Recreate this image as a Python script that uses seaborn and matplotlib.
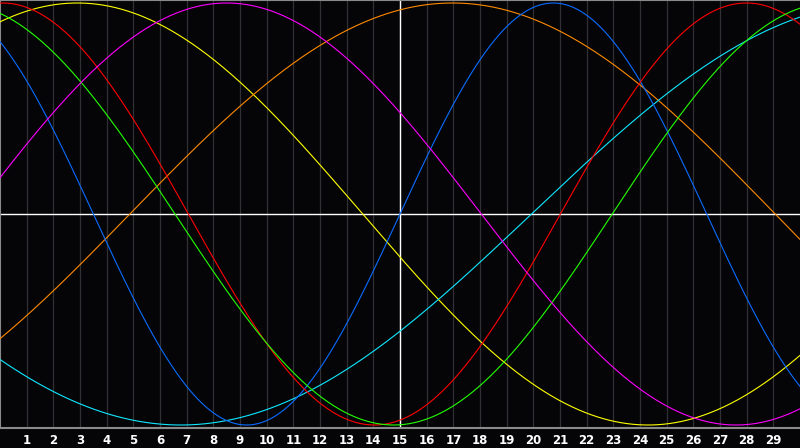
import numpy as np
import pandas as pd
import matplotlib
matplotlib.use("Agg")
import matplotlib.pyplot as plt
import matplotlib.transforms as mtransforms
import seaborn as sns

# --- data (cosine curves: period and position of the crest) ---
series = ["yellow", "orange", "cyan", "blue", "red", "green", "magenta"]
colors = ["#ffff00", "#ff8a00", "#10e8ff", "#0a6cff", "#ff0000", "#22ff00", "#ff00ff"]
periods = [42.8, 48.4, 52.6, 23.0, 27.9, 32.8, 38.2]
crests = [2.9, 16.97, 33.08, 20.75, 0.09, -1.64, 8.5]
tick_positions = list(range(1, 30))
tick_labels = [str(i) for i in tick_positions]

x = np.linspace(0, 30, 1201)
frames = []
for name, per, c in zip(series, periods, crests):
    frames.append(pd.DataFrame({"x": x, "y": np.cos((x - c) / per * 2 * np.pi), "series": name}))
df = pd.concat(frames, ignore_index=True)

sns.set_style("dark")
fig = plt.figure(figsize=(8, 4.48), dpi=100, facecolor="#050508")
ax = fig.add_axes([0.0, 20 / 448, 1.0, 428 / 448])
ax.set_facecolor("#050508")

for t in tick_positions:
    ax.axvline(t, color="#313135", lw=0.9, zorder=1)
ax.axvline(15, color="white", lw=1.0, zorder=2)
ax.axhline(0, color="white", lw=1.0, zorder=2)

sns.lineplot(data=df, x="x", y="y", hue="series", palette=dict(zip(series, colors)),
             hue_order=series, legend=False, ax=ax, lw=0.8, estimator=None, sort=False, zorder=3)

ax.set_xlim(0, 30)
ax.set_ylim(-1.0142, 1.0142)
ax.set_xticks(tick_positions)
ax.set_xticklabels(tick_labels, color="white", fontsize=8.5, fontweight="bold", family="DejaVu Sans")
offset = mtransforms.ScaledTranslation(-2.2 / 100, 0, fig.dpi_scale_trans)
for lab in ax.get_xticklabels():
    lab.set_transform(lab.get_transform() + offset)
ax.set_yticks([])
ax.tick_params(axis="x", length=0, pad=4)
ax.set_xlabel("")
ax.set_ylabel("")
ax.grid(False)
for s in ["left", "top", "bottom"]:
    ax.spines[s].set_visible(True)
    ax.spines[s].set_color("#8a8a8a")
    ax.spines[s].set_linewidth(1.5)
ax.spines["right"].set_visible(False)

fig.savefig("out.png", dpi=100, facecolor="#050508")
